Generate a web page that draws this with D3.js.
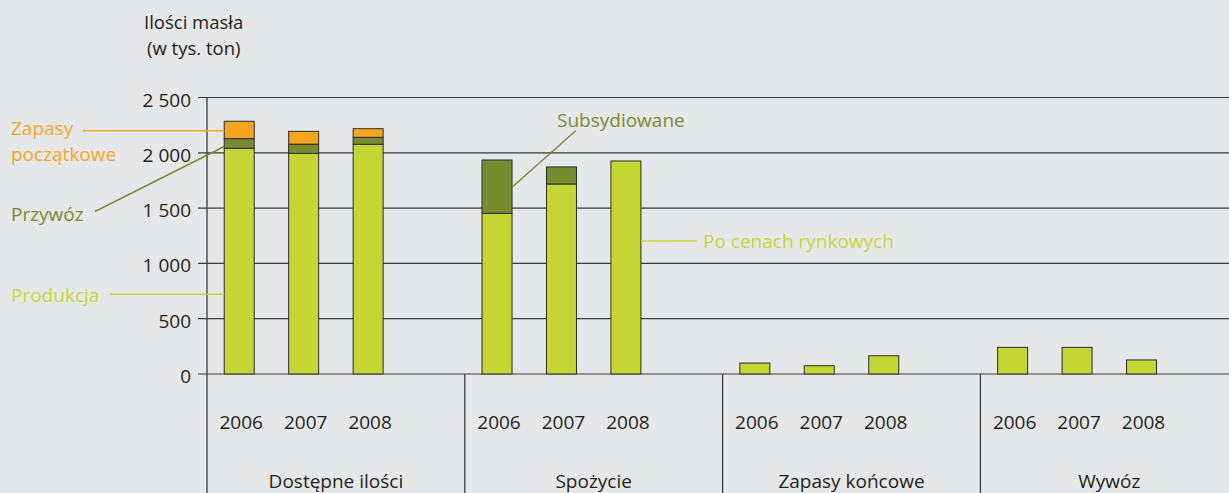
<!DOCTYPE html>
<html><head><meta charset="utf-8">
<script src="https://cdn.jsdelivr.net/npm/d3@7"></script>
<style>
html,body{margin:0;padding:0;background:#e6e7e8;}
svg{display:block;font-family:"Open Sans",sans-serif;}
</style></head>
<body><svg id="c" width="1229" height="493"></svg>
<script>
const groups = ["Dostępne ilości","Spożycie","Zapasy końcowe","Wywóz"];
const years = ["2006","2007","2008"];
const yTicks = [0,500,1000,1500,2000,2500];
const tickLabels = ["0","500","1 000","1 500","2 000","2 500"];
// Dostępne ilości
const produkcja = [2041, 1995, 2077];
const przywoz = [87, 83, 63];
const zapasyPoczatkowe = [157, 116, 78];
// Spożycie
const poCenachRynkowych = [1453, 1718, 1926];
const subsydiowane = [482, 154, 0];
// Zapasy końcowe
const zapasyKoncowe = [99, 75, 165];
// Wywóz
const wywoz = [241, 241, 127];

const C_LIGHT="#c3d633", C_DARK="#7a8a2e", C_ORANGE="#f6a41e", C_TEXT="#231f20";

const svg = d3.select("#c");
const W=1229,H=493;
const y = d3.scaleLinear().domain([0,2500]).range([374,97.5]);
const slots = [];
groups.forEach((g,gi)=>{ years.forEach(yr=>slots.push(g+"|"+yr)); slots.push(g+"|gap"); });
const p = 1-30/64.45;
const x = d3.scaleBand().domain(slots).range([207,207+16*64.45]).paddingInner(p).paddingOuter(p/2);
const half = (x.step()-x.bandwidth())/2;

// gridlines + ticks
svg.append("g").selectAll("line").data(yTicks).join("line")
  .attr("x1",198).attr("x2",W).attr("y1",d=>y(d)).attr("y2",d=>y(d))
  .attr("stroke","#3a3a3a").attr("stroke-width",1.2);
svg.append("g").selectAll("text").data(yTicks).join("text")
  .attr("x",191).attr("y",d=>y(d)+9).attr("text-anchor","end")
  .attr("font-size",19).attr("fill",C_TEXT).text((d,i)=>tickLabels[i]);

// axis vertical line
svg.append("line").attr("x1",207).attr("x2",207).attr("y1",y(2500)).attr("y2",H)
  .attr("stroke","#3a3a3a").attr("stroke-width",1.3);
// group separators
groups.forEach((g,gi)=>{
  if(gi===0) return;
  const bx = x(g+"|2006")-half;
  svg.append("line").attr("x1",bx).attr("x2",bx).attr("y1",y(0)).attr("y2",H)
    .attr("stroke","#3a3a3a").attr("stroke-width",1.3);
});

// stacked data
const stacks = [
  {g:groups[0], series:[{v:produkcja,c:C_LIGHT},{v:przywoz,c:C_DARK},{v:zapasyPoczatkowe,c:C_ORANGE}]},
  {g:groups[1], series:[{v:poCenachRynkowych,c:C_LIGHT},{v:subsydiowane,c:C_DARK}]},
  {g:groups[2], series:[{v:zapasyKoncowe,c:C_LIGHT}]},
  {g:groups[3], series:[{v:wywoz,c:C_LIGHT}]}
];
const barsG = svg.append("g");
stacks.forEach(st=>{
  const rows = years.map((yr,i)=>{const o={year:yr}; st.series.forEach((s,k)=>o["s"+k]=s.v[i]); return o;});
  const keys = st.series.map((s,k)=>"s"+k);
  const stacked = d3.stack().keys(keys)(rows);
  stacked.forEach((layer,k)=>{
    barsG.selectAll(null).data(layer.filter(d=>d[1]-d[0]>0)).join("rect")
      .attr("x",d=>x(st.g+"|"+d.data.year))
      .attr("width",x.bandwidth())
      .attr("y",d=>y(d[1]))
      .attr("height",d=>y(d[0])-y(d[1]))
      .attr("fill",st.series[k].c)
      .attr("stroke","#2b2b2b").attr("stroke-width",1);
  });
  // year labels
  svg.selectAll(null).data(years).join("text")
    .attr("x",d=>x(st.g+"|"+d)+x.bandwidth()/2+2).attr("y",429)
    .attr("text-anchor","middle").attr("font-size",19).attr("fill",C_TEXT).text(d=>d);
  // group label
  const gx = (x(st.g+"|2006")-half + x(st.g+"|gap")+x.bandwidth()+half)/2;
  svg.append("text").attr("x",gx).attr("y",488).attr("text-anchor","middle")
    .attr("font-size",19).attr("fill",C_TEXT).text(st.g);
});

// y title
svg.append("text").attr("x",144).attr("y",29).attr("font-size",18.5).attr("fill",C_TEXT).text("Ilości masła");
svg.append("text").attr("x",147).attr("y",55).attr("font-size",18.5).attr("fill",C_TEXT).text("(w tys. ton)");

// annotations
function ann(txt,tx,ty,col,lines){
  lines.forEach(l=>svg.append("line").attr("x1",l[0]).attr("y1",l[1]).attr("x2",l[2]).attr("y2",l[3])
    .attr("stroke",col).attr("stroke-width",1.5));
  txt.forEach((t,i)=>svg.append("text").attr("x",tx).attr("y",ty+i*26).attr("font-size",19).attr("fill",col).text(t));
}
const b0 = x(groups[0]+"|2006");
ann(["Zapasy","początkowe"],11,135,"#f6a623",[[83,130.7,b0,130.7]]);
ann(["Przywóz"],11,221,"#7a8b2f",[[95,211.5,b0,146.5]]);
ann(["Produkcja"],11,302,"#c5d838",[[110,294.3,b0,294.3]]);
const s0 = x(groups[1]+"|2006")+x.bandwidth();
ann(["Subsydiowane"],557,127,"#7a8b2f",[[575.7,130.7,s0,187.3]]);
const s2 = x(groups[1]+"|2008")+x.bandwidth();
ann(["Po cenach rynkowych"],703,248,"#c5d838",[[s2,241,696.7,241]]);
</script></body></html>
